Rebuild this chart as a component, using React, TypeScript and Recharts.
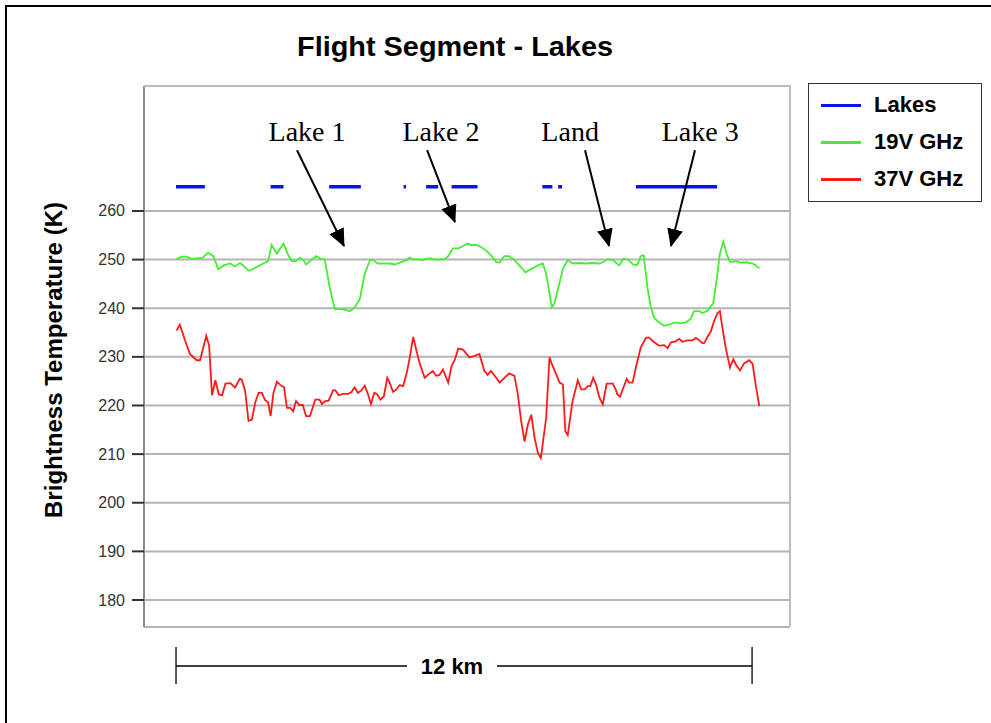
import React from "react";
import {
  LineChart,
  Line,
  XAxis,
  YAxis,
  CartesianGrid,
  ReferenceLine,
  ReferenceDot,
} from "recharts";

// distance along the flight line (km) and brightness temperature (K)
const km19V = [
  0.01, 0.12, 0.22, 0.33, 0.43, 0.54, 0.67, 0.78, 0.88, 0.99, 1.13, 1.23, 1.33, 1.4, 1.51, 1.61,
  1.72, 1.82, 1.92, 1.99, 2.1, 2.24, 2.34, 2.41, 2.5, 2.58, 2.65, 2.71, 2.83, 2.92, 3.0, 3.1,
  3.2, 3.31, 3.41, 3.51, 3.62, 3.72, 3.83, 3.93, 4.04, 4.1, 4.21, 4.35, 4.45, 4.56, 4.69, 4.8,
  4.87, 4.94, 5.04, 5.11, 5.18, 5.29, 5.39, 5.49, 5.6, 5.67, 5.77, 5.88, 5.98, 6.07, 6.15, 6.25,
  6.35, 6.46, 6.56, 6.67, 6.74, 6.84, 6.94, 7.05, 7.15, 7.28, 7.4, 7.54, 7.64, 7.71, 7.78, 7.83,
  7.88, 7.95, 8.06, 8.16, 8.26, 8.4, 8.54, 8.68, 8.82, 8.9, 8.99, 9.1, 9.23, 9.32, 9.42, 9.53,
  9.61, 9.68, 9.74, 9.82, 9.89, 9.96, 10.06, 10.17, 10.31, 10.41, 10.51, 10.62, 10.72, 10.79,
  10.9, 10.97, 11.07, 11.19, 11.26, 11.33, 11.4, 11.47, 11.54, 11.66, 11.76, 11.9, 12.01, 12.08,
  12.15,
];
const tb19V = [
  250.1, 250.6, 250.6, 250.1, 250.3, 250.3, 251.4, 250.7, 248.0, 248.8, 249.2, 248.6, 249.3, 248.8,
  247.7, 248.1, 248.7, 249.2, 249.7, 253.0, 251.2, 253.3, 250.9, 249.7, 249.7, 250.4, 249.9, 249.0,
  250.0, 250.7, 250.2, 250.0, 244.3, 239.8, 239.8, 239.7, 239.4, 240.1, 241.9, 247.1, 249.9, 249.9,
  249.2, 249.2, 249.2, 249.0, 249.5, 249.9, 250.4, 250.0, 250.1, 249.9, 250.1, 250.3, 250.0, 250.0,
  250.1, 250.7, 252.3, 252.3, 252.8, 253.3, 253.0, 253.0, 252.6, 251.9, 250.9, 249.5, 249.4, 250.7,
  250.7, 249.9, 248.8, 247.4, 248.1, 248.8, 249.2, 247.1, 243.0, 240.2, 240.9, 243.7, 248.1, 249.9,
  249.2, 249.3, 249.2, 249.3, 249.2, 249.5, 250.1, 249.9, 248.8, 250.2, 250.0, 248.9, 248.9, 250.7,
  250.9, 244.3, 240.2, 238.0, 237.1, 236.4, 236.8, 237.1, 236.9, 237.1, 237.8, 239.4, 239.4, 239.0,
  239.5, 241.0, 245.7, 251.2, 253.7, 251.2, 249.5, 249.7, 249.4, 249.4, 249.2, 248.8, 248.2,
];

const km37V = [
  0.01, 0.08, 0.19, 0.29, 0.43, 0.5, 0.63, 0.69, 0.75, 0.82, 0.89, 0.96, 1.03, 1.13, 1.23, 1.33,
  1.37, 1.44, 1.51, 1.58, 1.65, 1.72, 1.79, 1.85, 1.92, 1.97, 2.03, 2.1, 2.2, 2.25, 2.31, 2.38,
  2.44, 2.5, 2.57, 2.64, 2.71, 2.79, 2.9, 2.99, 3.04, 3.11, 3.18, 3.27, 3.32, 3.39, 3.48, 3.58,
  3.65, 3.72, 3.79, 3.86, 3.93, 4.0, 4.06, 4.13, 4.19, 4.26, 4.33, 4.4, 4.45, 4.52, 4.59, 4.66,
  4.73, 4.8, 4.87, 4.94, 5.01, 5.08, 5.18, 5.25, 5.35, 5.42, 5.49, 5.56, 5.67, 5.74, 5.81, 5.88,
  5.98, 6.07, 6.11, 6.22, 6.32, 6.42, 6.49, 6.56, 6.67, 6.74, 6.84, 6.94, 7.05, 7.12, 7.19, 7.26,
  7.33, 7.4, 7.47, 7.54, 7.6, 7.71, 7.78, 7.83, 7.92, 7.99, 8.06, 8.11, 8.16, 8.26, 8.37, 8.44,
  8.51, 8.58, 8.63, 8.69, 8.75, 8.82, 8.89, 8.97, 9.1, 9.17, 9.19, 9.25, 9.32, 9.39, 9.44, 9.51,
  9.58, 9.68, 9.79, 9.85, 9.96, 10.06, 10.17, 10.24, 10.31, 10.41, 10.48, 10.55, 10.65, 10.76,
  10.83, 10.9, 10.97, 11.01, 11.07, 11.14, 11.21, 11.28, 11.33, 11.38, 11.45, 11.54, 11.61, 11.68,
  11.75, 11.83, 11.94, 12.01, 12.08, 12.15,
];
const tb37V = [
  235.4, 236.6, 233.3, 230.6, 229.3, 229.3, 234.3, 232.3, 222.1, 225.2, 222.3, 222.1, 224.5, 224.6,
  223.7, 225.5, 225.3, 223.0, 216.8, 217.1, 220.6, 222.6, 222.6, 221.2, 220.6, 217.8, 222.6, 224.9,
  224.0, 223.8, 219.5, 219.5, 218.8, 220.9, 220.1, 220.1, 217.8, 217.8, 221.2, 221.2, 220.3, 220.9,
  221.0, 223.1, 223.1, 222.1, 222.4, 222.4, 222.7, 223.7, 222.6, 223.1, 224.1, 222.3, 220.3, 222.6,
  222.3, 221.2, 221.9, 225.7, 224.7, 222.8, 223.3, 224.2, 224.0, 226.4, 229.9, 234.1, 231.2, 228.5,
  225.7, 226.3, 227.1, 226.1, 226.3, 227.4, 224.7, 228.1, 229.5, 231.7, 231.5, 230.4, 229.9, 230.2,
  230.6, 227.2, 226.3, 227.1, 225.7, 224.7, 225.7, 226.6, 226.1, 222.3, 216.8, 212.6, 216.1, 218.1,
  213.3, 210.2, 209.2, 217.4, 229.9, 228.5, 226.4, 224.7, 224.3, 214.7, 213.9, 220.9, 225.2, 223.3,
  223.3, 224.0, 224.0, 225.7, 224.3, 221.6, 220.2, 224.5, 224.5, 223.0, 222.3, 221.8, 223.7, 225.5,
  224.7, 224.7, 227.8, 231.9, 233.9, 234.0, 233.0, 232.3, 232.4, 231.8, 233.0, 233.2, 233.7, 233.1,
  233.4, 233.4, 233.9, 233.4, 232.8, 232.9, 234.1, 235.2, 237.4, 239.0, 239.4, 236.1, 231.9, 227.8,
  229.5, 228.1, 227.2, 228.6, 229.3, 228.6, 224.0, 219.9,
];

// stretches flagged as lake (start km, end km), plotted at a constant level
const lakeSegments = [
  [0.0, 0.6],
  [1.97, 2.24],
  [3.19, 3.85],
  [4.74, 4.79],
  [5.21, 5.46],
  [5.74, 6.28],
  [7.63, 7.84],
  [7.96, 8.04],
  [9.58, 11.27],
];
const lakeLevel = 265;

const yTicks = [180, 190, 200, 210, 220, 230, 240, 250, 260];

// arrow annotations: label, label position, arrow from -> to (km, K)
const annotations = [
  { text: "Lake 1", lx: 2.73, ly: 274.4, from: [2.52, 272.5], to: [3.5, 252.8] },
  { text: "Lake 2", lx: 5.52, ly: 274.4, from: [5.23, 272.5], to: [5.81, 257.7] },
  { text: "Land", lx: 8.21, ly: 274.4, from: [8.52, 272.5], to: [9.02, 252.8] },
  { text: "Lake 3", lx: 10.92, ly: 274.4, from: [10.81, 272.5], to: [10.31, 252.8] },
];

const X_DOMAIN: [number, number] = [-0.667, 12.79];
const Y_DOMAIN: [number, number] = [174.45, 285.7];
const PLOT = { left: 144, top: 86, width: 646, height: 541 };

const SANS = "Arial, 'Liberation Sans', sans-serif";
const SERIF = "'Times New Roman', 'Liberation Serif', serif";

const series = [
  { key: "lakes", name: "Lakes", color: "#0a14f0" },
  { key: "v19", name: "19V GHz", color: "#44ee33" },
  { key: "v37", name: "37V GHz", color: "#ff1a1a" },
];

const data19 = km19V.map((k, i) => ({ km: k, v: tb19V[i] }));
const data37 = km37V.map((k, i) => ({ km: k, v: tb37V[i] }));
const lakeData: { km: number; v: number | null }[] = [];
lakeSegments.forEach(([a, b], i) => {
  lakeData.push({ km: a, v: lakeLevel }, { km: b, v: lakeLevel });
  const next = lakeSegments[i + 1];
  if (next) lakeData.push({ km: (b + next[0]) / 2, v: null });
});

const xToPx = (k: number) =>
  PLOT.left + ((k - X_DOMAIN[0]) / (X_DOMAIN[1] - X_DOMAIN[0])) * PLOT.width;

function YTick(props: any) {
  const { x, y, payload } = props;
  return (
    <text x={x} y={y} textAnchor="end" dominantBaseline="central" fontSize={16} fill="#333" fontFamily={SANS}>
      {payload.value}
    </text>
  );
}

function Arrow(props: any) {
  const { x1, y1, x2, y2 } = props;
  return <line x1={x1} y1={y1} x2={x2} y2={y2} stroke="#000" strokeWidth={2} markerEnd="url(#arrowHead)" />;
}

export default function App() {
  return (
    <div style={{ position: "absolute", left: 0, top: 0, width: 991, height: 723, background: "#fff", overflow: "hidden" }}>
      {/* outer frame, cut at right and bottom */}
      <div
        style={{
          position: "absolute",
          left: 5,
          top: 5,
          width: 1000,
          height: 740,
          borderTop: "2px solid #000",
          borderLeft: "2px solid #000",
        }}
      />
      <LineChart
        width={991}
        height={723}
        margin={{ top: PLOT.top, right: 991 - PLOT.left - PLOT.width, bottom: 723 - PLOT.top - PLOT.height, left: PLOT.left - 60 }}
        style={{ position: "absolute", left: 0, top: 0 }}
      >
        <defs>
          <marker id="arrowHead" markerWidth={18} markerHeight={16} refX={17} refY={8} orient="auto" markerUnits="userSpaceOnUse">
            <path d="M0,0 L18,8 L0,16 z" fill="#000" />
          </marker>
        </defs>
        <CartesianGrid vertical={false} stroke="#b4b4b4" strokeWidth={2} />
        <XAxis
          type="number"
          dataKey="km"
          domain={X_DOMAIN}
          allowDataOverflow
          tick={false}
          tickLine={false}
          height={0}
          axisLine={{ stroke: "#222", strokeWidth: 2 }}
        />
        <YAxis
          type="number"
          domain={Y_DOMAIN}
          allowDataOverflow
          ticks={yTicks}
          width={60}
          tickSize={12}
          tickMargin={7}
          tick={<YTick />}
          tickLine={{ stroke: "#333", strokeWidth: 2 }}
          axisLine={{ stroke: "#8a8a8a", strokeWidth: 2 }}
        />
        <Line data={lakeData} dataKey="v" name="Lakes" stroke={series[0].color} strokeWidth={3.5} dot={false} connectNulls={false} isAnimationActive={false} type="linear" />
        <Line data={data19} dataKey="v" name="19V GHz" stroke={series[1].color} strokeWidth={1.8} dot={false} isAnimationActive={false} type="linear" />
        <Line data={data37} dataKey="v" name="37V GHz" stroke={series[2].color} strokeWidth={1.8} dot={false} isAnimationActive={false} type="linear" />
        {annotations.map((a) => (
          <ReferenceLine
            key={a.text + "-arrow"}
            segment={[
              { x: a.from[0], y: a.from[1] },
              { x: a.to[0], y: a.to[1] },
            ]}
            ifOverflow="visible"
            shape={<Arrow />}
          />
        ))}
        {annotations.map((a) => (
          <ReferenceDot
            key={a.text}
            x={a.lx}
            y={a.ly}
            r={0}
            ifOverflow="visible"
            shape={(p: any) => (
              <text x={p.cx} y={p.cy} textAnchor="middle" fontSize={28} fontFamily={SERIF} fill="#000">
                {a.text}
              </text>
            )}
          />
        ))}
      </LineChart>

      {/* plot frame (top / right) */}
      <div
        style={{
          position: "absolute",
          left: PLOT.left,
          top: PLOT.top - 1,
          width: PLOT.width + 1,
          height: PLOT.height,
          borderTop: "2px solid #bdbdbd",
          borderRight: "2px solid #bdbdbd",
          boxSizing: "border-box",
          pointerEvents: "none",
        }}
      />

      <svg width={991} height={723} style={{ position: "absolute", left: 0, top: 0, pointerEvents: "none" }}>
        <text x={455} y={56} textAnchor="middle" fontSize={27} fontWeight="bold" fontFamily={SANS} fill="#000" textLength={316} lengthAdjust="spacingAndGlyphs">
          Flight Segment - Lakes
        </text>
        <text
          transform="translate(62,360) rotate(-90)"
          textAnchor="middle"
          fontSize={23}
          fontWeight="bold"
          fontFamily={SANS}
          fill="#000"
          textLength={316}
          lengthAdjust="spacingAndGlyphs"
        >
          Brightness Temperature (K)
        </text>
        {/* 12 km scale bar */}
        <line x1={xToPx(0)} y1={666} x2={407} y2={666} stroke="#000" strokeWidth={1.3} />
        <line x1={497} y1={666} x2={xToPx(12)} y2={666} stroke="#000" strokeWidth={1.3} />
        <line x1={xToPx(0)} y1={647} x2={xToPx(0)} y2={684} stroke="#000" strokeWidth={1.3} />
        <line x1={xToPx(12)} y1={647} x2={xToPx(12)} y2={684} stroke="#000" strokeWidth={1.3} />
        <text x={452} y={666} textAnchor="middle" dominantBaseline="central" fontSize={22} fontWeight="bold" fontFamily={SANS} fill="#000">
          12 km
        </text>
      </svg>

      {/* legend */}
      <div
        style={{
          position: "absolute",
          left: 808,
          top: 83,
          width: 174,
          height: 119,
          boxSizing: "border-box",
          border: "1.5px solid #333",
          background: "#fff",
          fontFamily: SANS,
          fontWeight: "bold",
          fontSize: 22,
        }}
      >
        {series.map((s, i) => (
          <div key={s.key} style={{ position: "absolute", left: 12, top: 8 + i * 37, height: 26, display: "flex", alignItems: "center" }}>
            <div style={{ width: 40, height: 3, background: s.color, marginRight: 13 }} />
            <span style={{ lineHeight: "26px", color: "#000" }}>{s.name}</span>
          </div>
        ))}
      </div>
    </div>
  );
}
